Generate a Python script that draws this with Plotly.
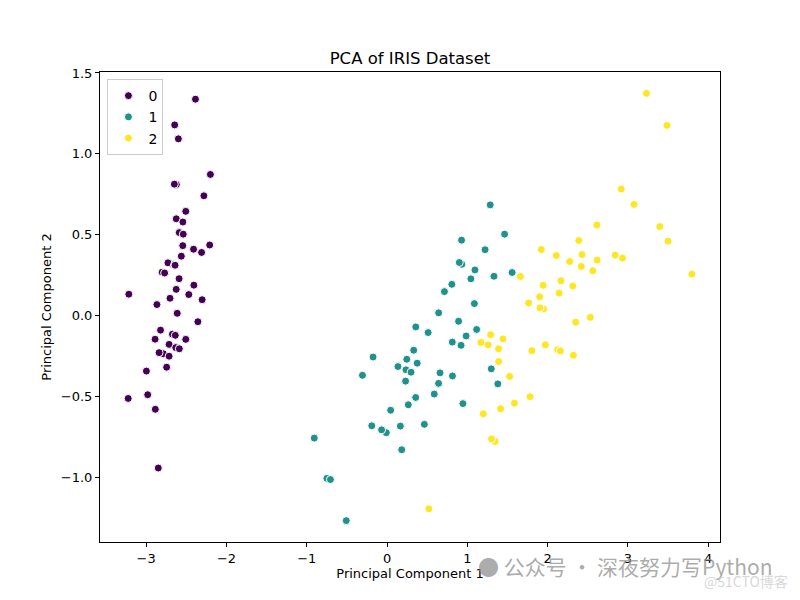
import plotly.graph_objects as go

# PCA coordinates (PC1, PC2) per class
pc1_0 = [-2.684, -2.714, -2.889, -2.745, -2.729, -2.281, -2.821, -2.626, -2.886, -2.673,
         -2.507, -2.613, -2.786, -3.224, -2.645, -2.386, -2.624, -2.648, -2.200, -2.588,
         -2.310, -2.544, -3.216, -2.303, -2.356, -2.507, -2.469, -2.562, -2.640, -2.632,
         -2.587, -2.410, -2.649, -2.599, -2.637, -2.866, -2.625, -2.801, -2.981, -2.590,
         -2.770, -2.849, -2.997, -2.406, -2.209, -2.714, -2.538, -2.839, -2.543, -2.703]
pc2_0 = [0.319, -0.177, -0.145, -0.318, 0.327, 0.741, -0.089, 0.163, -0.578, -0.114,
         0.645, 0.015, -0.235, -0.511, 1.179, 1.338, 0.811, 0.312, 0.873, 0.514,
         0.391, 0.433, 0.133, 0.099, -0.037, -0.146, 0.131, 0.368, 0.312, -0.197,
         -0.204, 0.411, 0.813, 1.093, -0.121, 0.069, 0.599, 0.269, -0.488, 0.229,
         0.264, -0.941, -0.342, 0.189, 0.437, -0.250, 0.504, -0.228, 0.579, 0.108]

pc1_1 = [1.285, 0.932, 1.464, 0.183, 1.088, 0.642, 1.095, -0.749, 1.044, -0.009,
         -0.508, 0.512, 0.265, 0.985, -0.174, 0.928, 0.660, 0.236, 0.945, 0.045,
         1.116, 0.358, 1.298, 0.922, 0.715, 0.900, 1.332, 1.558, 0.813, -0.306,
         -0.068, -0.190, 0.136, 1.380, 0.588, 0.807, 1.221, 0.815, 0.246, 0.166,
         0.465, 0.891, 0.231, -0.705, 0.357, 0.332, 0.376, 0.643, -0.906, 0.299]
pc2_1 = [0.685, 0.318, 0.504, -0.828, 0.075, -0.418, 0.283, -1.005, 0.228, -0.723,
         -1.266, -0.104, -0.550, -0.125, -0.255, 0.467, -0.353, -0.334, -0.543, -0.584,
         -0.085, -0.069, -0.328, -0.183, 0.149, 0.329, 0.244, 0.267, -0.163, -0.368,
         -0.705, -0.680, -0.314, -0.421, -0.484, 0.194, 0.408, -0.372, -0.269, -0.682,
         -0.671, -0.034, -0.404, -1.012, -0.505, -0.213, -0.293, 0.018, -0.756, -0.349]

pc1_2 = [2.531, 1.415, 2.617, 1.972, 2.350, 3.397, 0.521, 2.933, 2.321, 2.917,
         1.662, 1.803, 2.166, 1.346, 1.586, 1.904, 1.950, 3.487, 3.796, 1.301,
         2.428, 1.199, 3.500, 1.389, 2.275, 2.614, 1.259, 1.291, 2.124, 2.388,
         2.842, 3.231, 2.159, 1.444, 1.781, 3.076, 2.144, 1.905, 1.169, 2.108,
         2.314, 1.922, 1.415, 2.563, 2.419, 1.944, 1.527, 1.764, 1.901, 1.390]
pc2_2 = [-0.010, -0.575, 0.344, -0.180, -0.040, 0.551, -1.193, 0.356, -0.244, 0.783,
         0.242, -0.216, 0.216, -0.777, -0.540, 0.119, 0.042, 1.176, 0.257, -0.761,
         0.378, -0.606, 0.461, -0.204, 0.335, 0.561, -0.180, -0.117, -0.210, 0.465,
         0.375, 1.374, -0.217, -0.143, -0.500, 0.688, 0.140, 0.049, -0.165, 0.372,
         0.184, 0.409, -0.575, 0.278, 0.305, 0.188, -0.375, 0.079, 0.117, -0.283]

labels = ["0", "1", "2"]
colors = ["#440154", "#21918c", "#fde725"]
xs = [pc1_0, pc1_1, pc1_2]
ys = [pc2_0, pc2_1, pc2_2]

fig = go.Figure()
for lab, col, x, y in zip(labels, colors, xs, ys):
    fig.add_trace(go.Scatter(
        x=x, y=y, mode="markers", name=lab,
        marker=dict(color=col, size=8, line=dict(color="white", width=1)),
    ))

axis_common = dict(
    showgrid=False, zeroline=False, showline=True, linecolor="black", linewidth=1,
    mirror=True, ticks="outside", ticklen=4, tickcolor="black",
    tickfont=dict(size=13, color="black"),
)

# page has an 8px body margin, so the figure is 792x592 placed at (8, 8)
fig.update_layout(
    width=792, height=592,
    paper_bgcolor="white", plot_bgcolor="white",
    font=dict(family="DejaVu Sans", color="black"),
    margin=dict(l=92, r=80, t=64, b=58),
    title=dict(text="PCA of IRIS Dataset", x=(410 - 8) / 792, xanchor="center",
               y=1 - 50 / 592, yanchor="middle", font=dict(size=16.5)),
    xaxis=dict(axis_common, range=[-3.575, 4.147], tickvals=[-3, -2, -1, 0, 1, 2, 3, 4],
               ticktext=["\u22123", "\u22122", "\u22121", "0", "1", "2", "3", "4"],
               title=dict(text="Principal Component 1", font=dict(size=13), standoff=0)),
    yaxis=dict(axis_common, range=[-1.398, 1.506],
               tickvals=[-1.0, -0.5, 0.0, 0.5, 1.0, 1.5],
               ticktext=["\u22121.0", "\u22120.5", "0.0", "0.5", "1.0", "1.5"],
               title=dict(text="Principal Component 2", font=dict(size=13), standoff=6)),
    legend=dict(x=0.012, y=0.985, xanchor="left", yanchor="top",
                bgcolor="rgba(255,255,255,0.8)", bordercolor="#cccccc", borderwidth=1,
                font=dict(size=14), itemwidth=30, tracegroupgap=4),
    showlegend=True,
)

# watermark
fig.add_annotation(text="\u25cf \u516c\u4f17\u53f7 \u00b7 \u6df1\u591c\u52aa\u529b\u5199Python",
                   xref="paper", yref="paper", x=1.089, y=-0.052, xanchor="right",
                   yanchor="middle", showarrow=False,
                   font=dict(size=21, color="rgba(150,150,150,0.8)",
                             family="Noto Sans CJK SC"))
fig.add_annotation(text="@51CTO\u535a\u5ba2", xref="paper", yref="paper", x=1.113, y=-0.0825,
                   xanchor="right", yanchor="middle", showarrow=False,
                   font=dict(size=14, color="rgba(205,205,205,0.8)",
                             family="Noto Sans CJK SC"))

fig.write_html("out.html")
